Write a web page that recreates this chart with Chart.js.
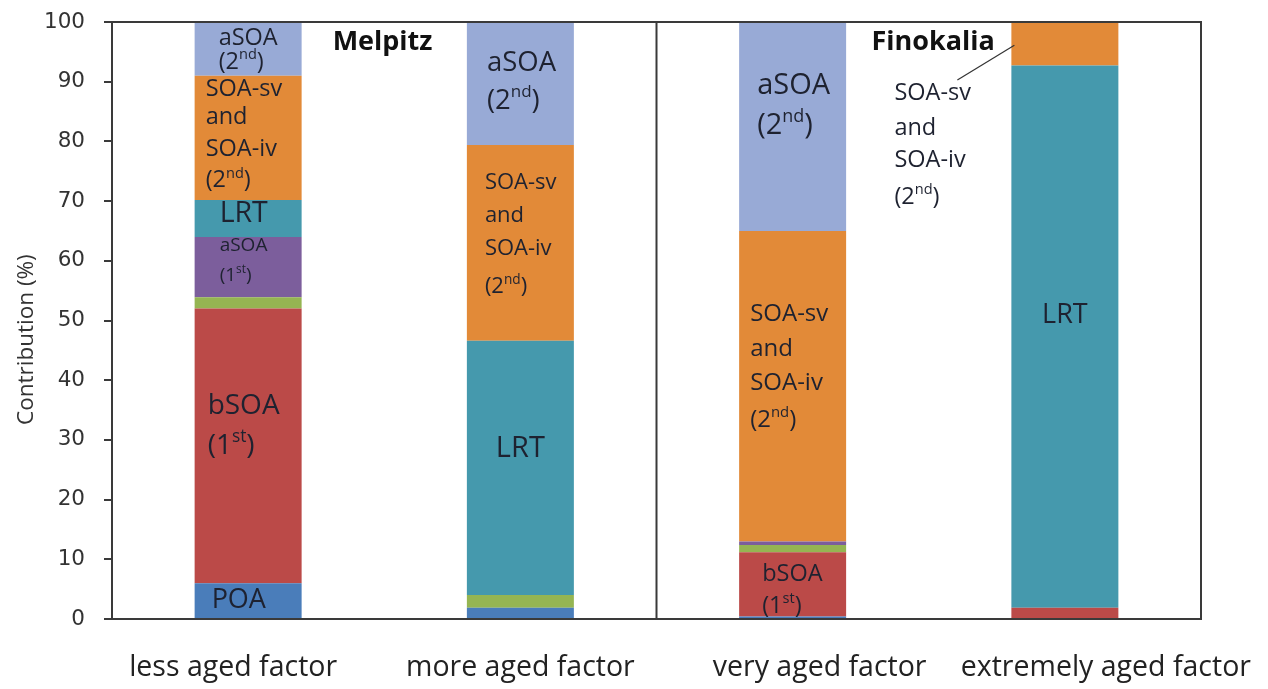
<!DOCTYPE html>
<html>
<head>
<meta charset="utf-8">
<script src="https://cdn.jsdelivr.net/npm/chart.js@4.4.1/dist/chart.umd.min.js"></script>
<style>
  html, body { margin: 0; padding: 0; background: #fff; }
  #wrap { width: 1268px; height: 689px; }
</style>
</head>
<body>
<div id="wrap"><canvas id="contribChart" width="1268" height="689"></canvas></div>
<script>
// Factor categories (x axis)
const factors = ['less aged factor', 'more aged factor', 'very aged factor', 'extremely aged factor'];

// Contributions (%) per source, bottom to top of the stack
const poa = [6.0, 1.9, 0.4, 0];
const bsoa1 = [46.0, 0, 10.8, 1.9];
const minorSoa = [1.9, 2.1, 1.2, 0];
const asoa1 = [10.1, 0, 0.6, 0];
const lrt = [6.2, 42.6, 0, 90.8];
const soaSvIv2 = [20.8, 32.8, 52.0, 7.3];
const asoa2 = [9.0, 20.6, 35.0, 0];

const yTicks = [0, 10, 20, 30, 40, 50, 60, 70, 80, 90, 100];
const yTitle = 'Contribution (%)';

const labelFont = '"Open Sans", Lato, sans-serif';
const textColor = '#1e2230';
const axisColor = '#3a3a3a';

// text with ^superscript^ parts
function drawRich(ctx, text, x, y, size, align, bold) {
  const parts = text.split('^');
  const weight = bold ? 'bold ' : '';
  let total = 0;
  const widths = parts.map((p, i) => {
    ctx.font = weight + (i % 2 ? size * 0.62 : size) + 'px ' + labelFont;
    const w = ctx.measureText(p).width;
    total += w;
    return w;
  });
  let cx = align === 'center' ? x - total / 2 : x;
  ctx.textAlign = 'left';
  ctx.textBaseline = 'middle';
  parts.forEach((p, i) => {
    const sup = i % 2 === 1;
    ctx.font = weight + (sup ? size * 0.62 : size) + 'px ' + labelFont;
    ctx.fillText(p, cx, sup ? y - size * 0.3 : y);
    cx += widths[i];
  });
}

// In-bar and free text annotations (y in axis units, x offset from bar left)
const annotations = [
  { bar: 0, dx: 24, size: 23.5, lines: [[97.3, 'aSOA'], [93.3, '(2^nd^)']] },
  { bar: 0, dx: 11, size: 23.5, lines: [[88.8, 'SOA-sv'], [84.1, 'and'], [78.6, 'SOA-iv'], [73.4, '(2^nd^)']] },
  { bar: 0, dx: 25, size: 28.5, lines: [[67.8, 'LRT']] },
  { bar: 0, dx: 25, size: 19, lines: [[62.6, 'aSOA'], [57.6, '(1^st^)']] },
  { bar: 0, dx: 13, size: 28, lines: [[35.7, 'bSOA'], [29.0, '(1^st^)']] },
  { bar: 0, dx: 17, size: 27, lines: [[3.2, 'POA']] },
  { bar: 1, dx: 20, size: 27.5, lines: [[93.1, 'aSOA'], [86.8, '(2^nd^)']] },
  { bar: 1, dx: 18, size: 22, lines: [[73.0, 'SOA-sv'], [67.5, 'and'], [62.0, 'SOA-iv'], [55.6, '(2^nd^)']] },
  { bar: 1, center: true, size: 29, lines: [[28.5, 'LRT']] },
  { bar: 2, dx: 18, size: 29, lines: [[89.4, 'aSOA'], [82.7, '(2^nd^)']] },
  { bar: 2, dx: 11, size: 24, lines: [[51.1, 'SOA-sv'], [45.2, 'and'], [39.5, 'SOA-iv'], [33.3, '(2^nd^)']] },
  { bar: 2, dx: 23, size: 23.5, lines: [[7.5, 'bSOA'], [2.2, '(1^st^)']] },
  { bar: 3, center: true, size: 27, lines: [[50.8, 'LRT']] },
  { bar: 3, dx: -117, size: 23.5, lines: [[88.1, 'SOA-sv'], [82.2, 'and'], [76.9, 'SOA-iv'], [70.7, '(2^nd^)']] }
];

const siteLabels = [
  { bar: 0, dx: 138, y: 96.6, size: 27, text: 'Melpitz' },
  { bar: 3, dx: -140, y: 96.6, size: 27, text: 'Finokalia' }
];

// x label nudges (px) so they sit where the original put them
const xLabelShift = [-15, 0, 27, 41];

const annotationPlugin = {
  id: 'annotations',
  afterDatasetsDraw(chart) {
    const ctx = chart.ctx;
    const area = chart.chartArea;
    const x = chart.scales.x;
    const y = chart.scales.y;
    const bars = chart.getDatasetMeta(0).data;
    ctx.save();

    // frame: top, right and the site divider
    ctx.strokeStyle = axisColor;
    ctx.lineWidth = 2;
    ctx.beginPath();
    ctx.moveTo(area.left, area.top);
    ctx.lineTo(area.right, area.top);
    ctx.lineTo(area.right, area.bottom);
    const mid = (x.getPixelForValue(1) + x.getPixelForValue(2)) / 2;
    ctx.moveTo(mid, area.top);
    ctx.lineTo(mid, area.bottom);
    ctx.stroke();

    ctx.fillStyle = textColor;
    annotations.forEach(a => {
      const b = bars[a.bar];
      const left = b.x - b.width / 2;
      a.lines.forEach(([v, t]) => {
        if (a.center) drawRich(ctx, t, b.x, y.getPixelForValue(v), a.size, 'center');
        else drawRich(ctx, t, left + a.dx, y.getPixelForValue(v), a.size, 'left');
      });
    });

    ctx.fillStyle = '#111';
    siteLabels.forEach(s => {
      const b = bars[s.bar];
      drawRich(ctx, s.text, b.x - b.width / 2 + s.dx, y.getPixelForValue(s.y), s.size, 'left', true);
    });

    // category names under the axis
    ctx.fillStyle = '#222';
    factors.forEach((f, i) => {
      drawRich(ctx, f, x.getPixelForValue(i) + xLabelShift[i], 668, 28.5, 'center');
    });

    // y axis title, a little below the plot centre as in the original
    ctx.save();
    ctx.translate(27, y.getPixelForValue(46.8));
    ctx.rotate(-Math.PI / 2);
    ctx.fillStyle = '#333';
    drawRich(ctx, yTitle, 0, 0, 22.5, 'center');
    ctx.restore();

    // leader line from the Finokalia label to the orange segment
    const b4 = bars[3];
    const l4 = b4.x - b4.width / 2;
    ctx.strokeStyle = '#333';
    ctx.lineWidth = 1.2;
    ctx.beginPath();
    ctx.moveTo(l4 - 54, y.getPixelForValue(90.3));
    ctx.lineTo(l4 + 3, y.getPixelForValue(96.1));
    ctx.stroke();
    ctx.restore();
  }
};

function makeSet(label, data, color) {
  return {
    label: label,
    data: data,
    backgroundColor: color,
    borderWidth: 0,
    barPercentage: 0.393,
    categoryPercentage: 1.0
  };
}

const ctx = document.getElementById('contribChart').getContext('2d');
const contribChart = new Chart(ctx, {
  type: 'bar',
  data: {
    labels: factors,
    datasets: [
      makeSet('POA', poa, '#4a7dba'),
      makeSet('bSOA (1st)', bsoa1, '#bb4a48'),
      makeSet('other SOA', minorSoa, '#95b552'),
      makeSet('aSOA (1st)', asoa1, '#7c5e9c'),
      makeSet('LRT', lrt, '#4599ad'),
      makeSet('SOA-sv and SOA-iv (2nd)', soaSvIv2, '#e28a38'),
      makeSet('aSOA (2nd)', asoa2, '#98aad6')
    ]
  },
  options: {
    responsive: false,
    animation: false,
    layout: { padding: { left: 0, right: 67, top: 22, bottom: 0 } },
    plugins: {
      legend: { display: false },
      tooltip: { enabled: false }
    },
    scales: {
      x: {
        stacked: true,
        grid: { display: false, drawTicks: false },
        border: { display: true, color: axisColor, width: 2 },
        ticks: { display: false },
        afterFit: scale => { scale.height = 70; }
      },
      y: {
        stacked: true,
        min: 0,
        max: 100,
        afterBuildTicks: scale => { scale.ticks = yTicks.map(v => ({ value: v })); },
        grid: { drawOnChartArea: false, drawTicks: true, tickLength: 8, color: axisColor, lineWidth: 2 },
        border: { display: true, color: axisColor, width: 2 },
        ticks: {
          color: '#333',
          padding: 19,
          font: { family: '"DejaVu Sans", Verdana, sans-serif', size: 21.5 }
        },
        afterFit: scale => {
          scale.width = 112;
          scale.paddingTop = 0;
          scale.paddingBottom = 0;
        }
      }
    }
  },
  plugins: [annotationPlugin]
});
</script>
</body>
</html>
